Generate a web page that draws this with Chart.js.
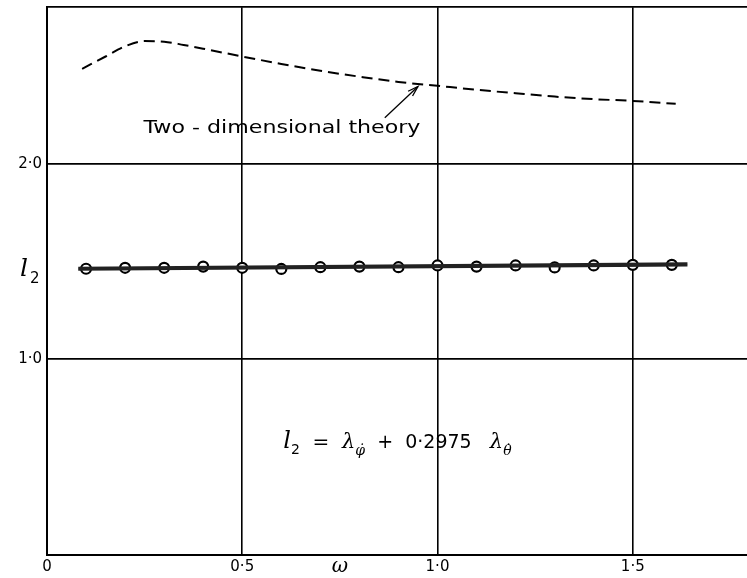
<!DOCTYPE html>
<html>
<head>
<meta charset="utf-8">
<script src="https://cdn.jsdelivr.net/npm/chart.js@4.4.0/dist/chart.umd.min.js"></script>
<style>
  html, body { margin: 0; padding: 0; background: #ffffff; overflow: hidden; }
  #wrap { width: 770px; height: 578px; position: relative; }
</style>
</head>
<body>
<div id="wrap"><canvas id="grafica"></canvas></div>
<script>
// frecuencia omega y coeficiente l2 medido
var omega = [0.1, 0.2, 0.3, 0.4, 0.5, 0.6, 0.7, 0.8, 0.9, 1.0, 1.1, 1.2, 1.3, 1.4, 1.5, 1.6];
var l2 = [1.463, 1.468, 1.468, 1.474, 1.468, 1.462, 1.471, 1.474, 1.471, 1.480, 1.474, 1.480, 1.470, 1.480, 1.483, 1.483];

// recta ajustada a los puntos
var rectaX = [0.08, 1.64];
var rectaY = [1.463, 1.485];

// teoria bidimensional (curva a trazos)
var teoriaX = [0.09, 0.15, 0.2, 0.25, 0.3, 0.35, 0.4, 0.5, 0.6, 0.7, 0.8, 0.9, 1.0, 1.1, 1.2, 1.3, 1.4, 1.5, 1.61];
var teoriaY = [2.485, 2.548, 2.6, 2.627, 2.624, 2.607, 2.588, 2.548, 2.51, 2.475, 2.445, 2.418, 2.398, 2.378, 2.36, 2.343, 2.33, 2.321, 2.306];

var ticksX = [0, 0.5, 1.0, 1.5];
var ticksY = [0, 1.0, 2.0, 2.8];
var etiquetasX = ['0', '0\u00b75', '1\u00b70', '1\u00b75'];
var etiquetasY = ['', '1\u00b70', '2\u00b70', ''];

function puntos(xs, ys) {
    var res = [];
    for (var i = 0; i < xs.length; i++) {
        res.push({ x: xs[i], y: ys[i] });
    }
    return res;
}

// textos y flecha dibujados sobre el grafico
var textos = {
    id: 'textos',
    afterDraw: function (chart) {
        var ctx = chart.ctx;
        var sx = chart.scales.x;
        var sy = chart.scales.y;
        ctx.save();
        ctx.fillStyle = '#000';
        ctx.strokeStyle = '#000';
        ctx.textBaseline = 'alphabetic';

        // rotulo de la curva teorica
        ctx.font = '18px "DejaVu Sans"';
        var t = 'Two - dimensional theory';
        var w = ctx.measureText(t).width;
        var x0 = sx.getPixelForValue(0.247);
        var y0 = sy.getPixelForValue(2.155);
        ctx.save();
        ctx.translate(x0, y0);
        ctx.scale(277 / w, 1);
        ctx.fillText(t, 0, 0);
        ctx.restore();

        // flecha hacia la curva
        var ax = sx.getPixelForValue(0.865), ay = sy.getPixelForValue(2.235);
        var bx = sx.getPixelForValue(0.95), by = sy.getPixelForValue(2.395);
        ctx.lineWidth = 1.3;
        ctx.beginPath();
        ctx.moveTo(ax, ay);
        ctx.lineTo(bx, by);
        ctx.stroke();
        var ang = Math.atan2(by - ay, bx - ax);
        ctx.beginPath();
        ctx.moveTo(bx - 11 * Math.cos(ang - 0.3), by - 11 * Math.sin(ang - 0.3));
        ctx.lineTo(bx, by);
        ctx.lineTo(bx - 11 * Math.cos(ang + 0.3), by - 11 * Math.sin(ang + 0.3));
        ctx.stroke();

        // titulo del eje x
        ctx.font = 'italic 20px "DejaVu Serif"';
        ctx.textAlign = 'center';
        ctx.fillText('\u03c9', 340, 572);

        // titulo del eje y
        ctx.textAlign = 'left';
        ctx.font = 'italic 25px "DejaVu Serif"';
        ctx.fillText('l', 20, 276);
        ctx.font = '15px "DejaVu Sans"';
        ctx.fillText('2', 30, 283);

        // formula
        var fx = sx.getPixelForValue(0.605);
        var fy = sy.getPixelForValue(0.545);
        var partes = [
            ['italic 24px "DejaVu Serif"', 'l', 0],
            ['14px "DejaVu Sans"', '2', 6],
            ['20px "DejaVu Sans"', '  =  ', 0],
            ['italic 21px "DejaVu Serif"', '\u03bb', 0],
            ['italic 14px "DejaVu Serif"', '\u03c6\u0307', 7],
            ['19px "DejaVu Sans"', '  +  0\u00b72975   ', 0],
            ['italic 21px "DejaVu Serif"', '\u03bb', 0],
            ['italic 14px "DejaVu Serif"', '\u03b8\u0307', 7]
        ];
        var cx = fx;
        for (var i = 0; i < partes.length; i++) {
            ctx.font = partes[i][0];
            ctx.fillText(partes[i][1], cx, fy + partes[i][2]);
            cx += ctx.measureText(partes[i][1]).width;
        }
        ctx.restore();
    }
};

var ctx = document.getElementById('grafica').getContext('2d');
var myChart = new Chart(ctx, {
    type: 'scatter',
    data: {
        datasets: [{
            label: 'teoria',
            data: puntos(teoriaX, teoriaY),
            showLine: true,
            borderColor: '#000',
            borderWidth: 2,
            borderDash: [11, 6],
            pointRadius: 0,
            cubicInterpolationMode: 'monotone',
            fill: false
        }, {
            // recta doble: trazo oscuro con el centro claro
            label: 'recta',
            data: puntos(rectaX, rectaY),
            showLine: true,
            borderColor: '#222',
            borderWidth: 4.2,
            pointRadius: 0,
            fill: false
        }, {
            label: 'recta centro',
            data: puntos(rectaX, rectaY),
            showLine: true,
            borderColor: '#c8c8c8',
            borderWidth: 1.6,
            pointRadius: 0,
            fill: false
        }, {
            label: 'l2',
            data: puntos(omega, l2),
            showLine: false,
            backgroundColor: '#fff',
            borderColor: '#000',
            borderWidth: 2.2,
            pointRadius: 5
        }]
    },
    options: {
        responsive: true,
        maintainAspectRatio: false,
        animation: false,
        layout: { padding: { top: 6, right: 0, left: 0, bottom: 0 } },
        plugins: {
            legend: { display: false },
            tooltip: { enabled: false }
        },
        scales: {
            x: {
                type: 'linear',
                position: 'bottom',
                min: 0,
                max: 1.833,
                afterBuildTicks: function (axis) {
                    axis.ticks = ticksX.map(function (v) { return { value: v }; });
                },
                afterFit: function (axis) {
                    axis.height = 23;
                    axis.paddingLeft = 0;
                    axis.paddingRight = 0;
                },
                ticks: {
                    autoSkip: false,
                    maxRotation: 0,
                    padding: 3,
                    color: '#000',
                    font: { family: 'DejaVu Sans', size: 15 },
                    callback: function (v, i) { return etiquetasX[i]; }
                },
                grid: { color: '#000', lineWidth: 1.6, drawTicks: false },
                border: { color: '#000', width: 2 }
            },
            y: {
                type: 'linear',
                position: 'left',
                min: 0,
                max: 2.8,
                afterBuildTicks: function (axis) {
                    axis.ticks = ticksY.map(function (v) { return { value: v }; });
                },
                afterFit: function (axis) {
                    axis.width = 47;
                    axis.paddingTop = 0;
                    axis.paddingBottom = 0;
                },
                ticks: {
                    autoSkip: false,
                    padding: 5,
                    color: '#000',
                    font: { family: 'DejaVu Sans', size: 15 },
                    callback: function (v, i) { return etiquetasY[i]; }
                },
                grid: { color: '#000', lineWidth: 1.8, drawTicks: false },
                border: { color: '#000', width: 2 }
            }
        }
    },
    plugins: [textos]
});
</script>
</body>
</html>
